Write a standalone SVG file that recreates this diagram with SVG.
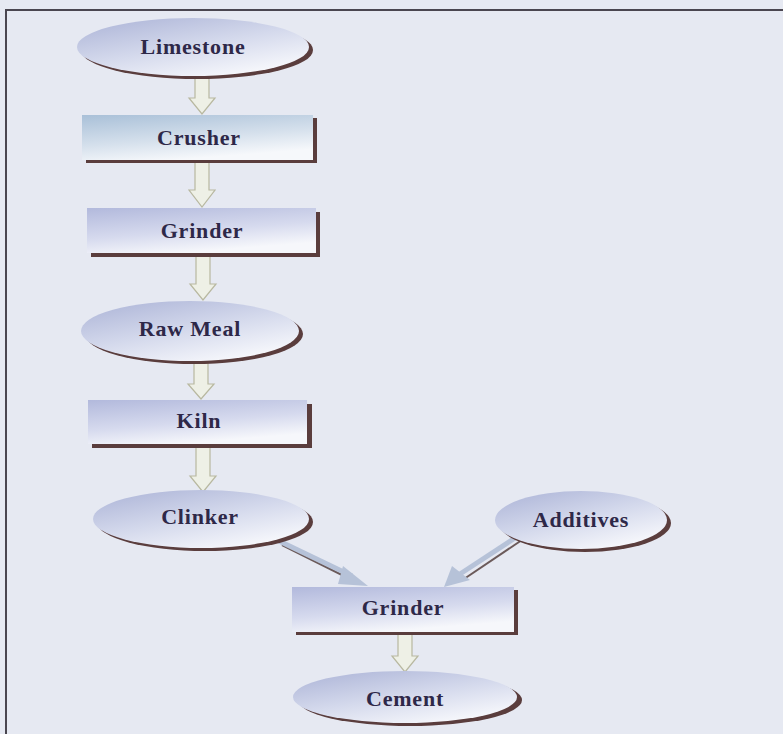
<svg xmlns="http://www.w3.org/2000/svg" width="783" height="734" viewBox="0 0 783 734">
<defs>
<linearGradient id="ge" x1="0" y1="0" x2="0.7" y2="1">
<stop offset="0" stop-color="#aab2d6"/>
<stop offset="0.55" stop-color="#d4d9ec"/>
<stop offset="1" stop-color="#f7f8fc"/>
</linearGradient>
<linearGradient id="gr" x1="0" y1="0" x2="0.4" y2="1">
<stop offset="0" stop-color="#a9c0d8"/>
<stop offset="0.6" stop-color="#d5e0ec"/>
<stop offset="1" stop-color="#f6f8fb"/>
</linearGradient>
<linearGradient id="gr2" x1="0" y1="0" x2="0.4" y2="1">
<stop offset="0" stop-color="#b2b9dc"/>
<stop offset="0.6" stop-color="#d6daee"/>
<stop offset="1" stop-color="#f6f7fb"/>
</linearGradient>
</defs>
<style>
.sh{fill:#5a3d3d;}
.el{fill:url(#ge);}
.rc{fill:url(#gr2);}
.t{font-family:"Liberation Serif",serif;font-weight:bold;font-size:22px;letter-spacing:0.8px;fill:#2e2848;text-anchor:middle;}
.ar{fill:#eef0e6;stroke:#b8b8a0;stroke-width:1.2;}
.dg{fill:none;stroke:#b6c2d8;stroke-width:5;}
.dgs{fill:none;stroke:#6b5a5a;stroke-width:2;}
</style>
<rect width="783" height="734" fill="#e6e9f2"/>
<path d="M6 734 V10 H783" fill="none" stroke="#4a4650" stroke-width="2"/>

<g id="connectors">
<path class="ar" d="M195 76 V98 H189 L202 114 L215 98 H209 V76 Z"/>
<path class="ar" d="M195 162 V190 H189 L202 207 L215 190 H209 V162 Z"/>
<path class="ar" d="M196 254 V284 H190 L203 300 L216 284 H210 V254 Z"/>
<path class="ar" d="M194 361 V384 H188 L201 399 L214 384 H208 V361 Z"/>
<path class="ar" d="M196 445 V476 H190 L203 492 L216 476 H210 V445 Z"/>
<path class="ar" d="M398 633 V656 H392 L405 672 L418 656 H412 V633 Z"/>
<line class="dgs" x1="282" y1="545" x2="350" y2="579"/>
<line class="dg" x1="277" y1="540" x2="352" y2="576"/>
<polygon points="343,566 368,586 338,584" fill="#b6c2d8"/>
<line class="dgs" x1="522" y1="540" x2="464" y2="579"/>
<line class="dg" x1="518" y1="536" x2="460" y2="574"/>
<polygon points="452,566 444,587 470,580" fill="#b6c2d8"/>
</g>

<g id="limestone">
<ellipse class="sh" cx="197" cy="50" rx="116" ry="29"/>
<ellipse class="el" cx="193" cy="47" rx="116" ry="29"/>
<text class="t" x="193" y="54">Limestone</text>
</g>
<g id="crusher">
<rect class="sh" x="86" y="118" width="231" height="45"/>
<rect x="82" y="115" width="231" height="45" fill="url(#gr)"/>
<text class="t" x="199" y="145">Crusher</text>
</g>
<g id="grinder1">
<rect class="sh" x="91" y="212" width="229" height="45"/>
<rect class="rc" x="87" y="208" width="229" height="45"/>
<text class="t" x="202" y="238">Grinder</text>
</g>
<g id="rawmeal">
<ellipse class="sh" cx="194" cy="334" rx="109" ry="30"/>
<ellipse class="el" cx="190" cy="331" rx="109" ry="30"/>
<text class="t" x="190" y="336">Raw Meal</text>
</g>
<g id="kiln">
<rect class="sh" x="92" y="404" width="220" height="44"/>
<rect class="rc" x="88" y="400" width="219" height="44"/>
<text class="t" x="199" y="428">Kiln</text>
</g>
<g id="clinker">
<ellipse class="sh" cx="205" cy="522" rx="108" ry="29"/>
<ellipse class="el" cx="201" cy="519" rx="108" ry="29"/>
<text class="t" x="200" y="524">Clinker</text>
</g>
<g id="additives">
<ellipse class="sh" cx="585" cy="523" rx="86" ry="29"/>
<ellipse class="el" cx="581" cy="520" rx="86" ry="29"/>
<text class="t" x="581" y="527">Additives</text>
</g>
<g id="grinder2">
<rect class="sh" x="296" y="590" width="222" height="45"/>
<rect class="rc" x="292" y="587" width="222" height="45"/>
<text class="t" x="403" y="615">Grinder</text>
</g>
<g id="cement">
<ellipse class="sh" cx="410" cy="700" rx="112" ry="26"/>
<ellipse class="el" cx="405" cy="697" rx="112" ry="26"/>
<text class="t" x="405" y="706">Cement</text>
</g>
</svg>
